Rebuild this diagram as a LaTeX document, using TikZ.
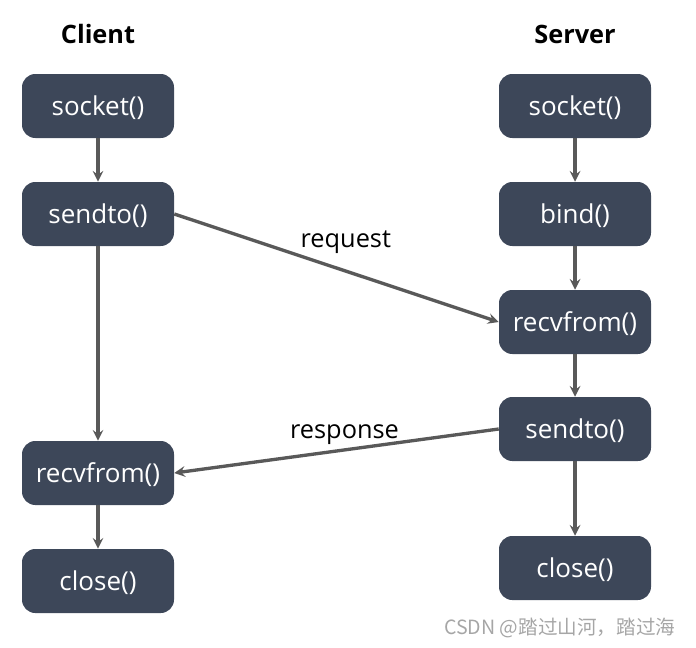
\documentclass[tikz,border=0pt]{standalone}
\usepackage{fontspec}
\setmainfont{Open Sans}
\newfontfamily\cjkfont{Noto Sans CJK SC}
\usetikzlibrary{positioning, arrows}
\definecolor{boxblue}{HTML}{3D4759}
\definecolor{linegray}{HTML}{595959}

\begin{document}
\begin{tikzpicture}[->,>=stealth,node distance=81pt,
    every edge/.style={draw=linegray, line width=2.5pt},
    func/.style={rectangle, rounded corners=10pt, fill=boxblue, text=white,
      minimum width=114pt, minimum height=48pt, text height=16pt, text depth=1.5pt,
      font=\fontsize{19.5}{22}\selectfont},
    title/.style={font=\fontsize{19}{22}\selectfont\bfseries},
    msg/.style={font=\fontsize{19}{22}\selectfont}]
      \useasboundingbox (0,0) rectangle (522pt,-485.25pt);

      \node[title] (client) at (73.5pt,-25.5pt) {Client};
      \node[title] (server) at (431.25pt,-25.5pt) {Server};

      % client side
      \node[func] (csock) at (73.5pt,-79.5pt) {socket()};
      \node[func] (csend) [below of=csock] {sendto()};
      \node[func] (crecv) [node distance=194.25pt, below of=csend] {recvfrom()};
      \node[func] (cclose) [below of=crecv] {close()};

      % server side
      \node[func] (ssock) at (431.25pt,-79.5pt) {socket()};
      \node[func] (sbind) [below of=ssock] {bind()};
      \node[func] (srecv) [below of=sbind] {recvfrom()};
      \node[func] (ssend) [node distance=80.25pt, below of=srecv] {sendto()};
      \node[func] (sclose) [node distance=104.25pt, below of=ssend] {close()};

      \node[text=gray!70, font=\cjkfont\fontsize{14.7}{17}\selectfont, anchor=east] (mark) at (510pt,-471pt) {CSDN @踏过山河，踏过海};

      \path (csock) edge (csend)
            (csend) edge (crecv)
            (crecv) edge (cclose)
            (ssock) edge (sbind)
            (sbind) edge (srecv)
            (srecv) edge (ssend)
            (ssend) edge (sclose)
            (csend.east) edge node[msg, above=6.5pt, xshift=7pt] {request} (srecv.west)
            (ssend.west) edge node[msg, above=0pt, xshift=6pt] {response} (crecv.east)
            ;
\end{tikzpicture}
\end{document}
